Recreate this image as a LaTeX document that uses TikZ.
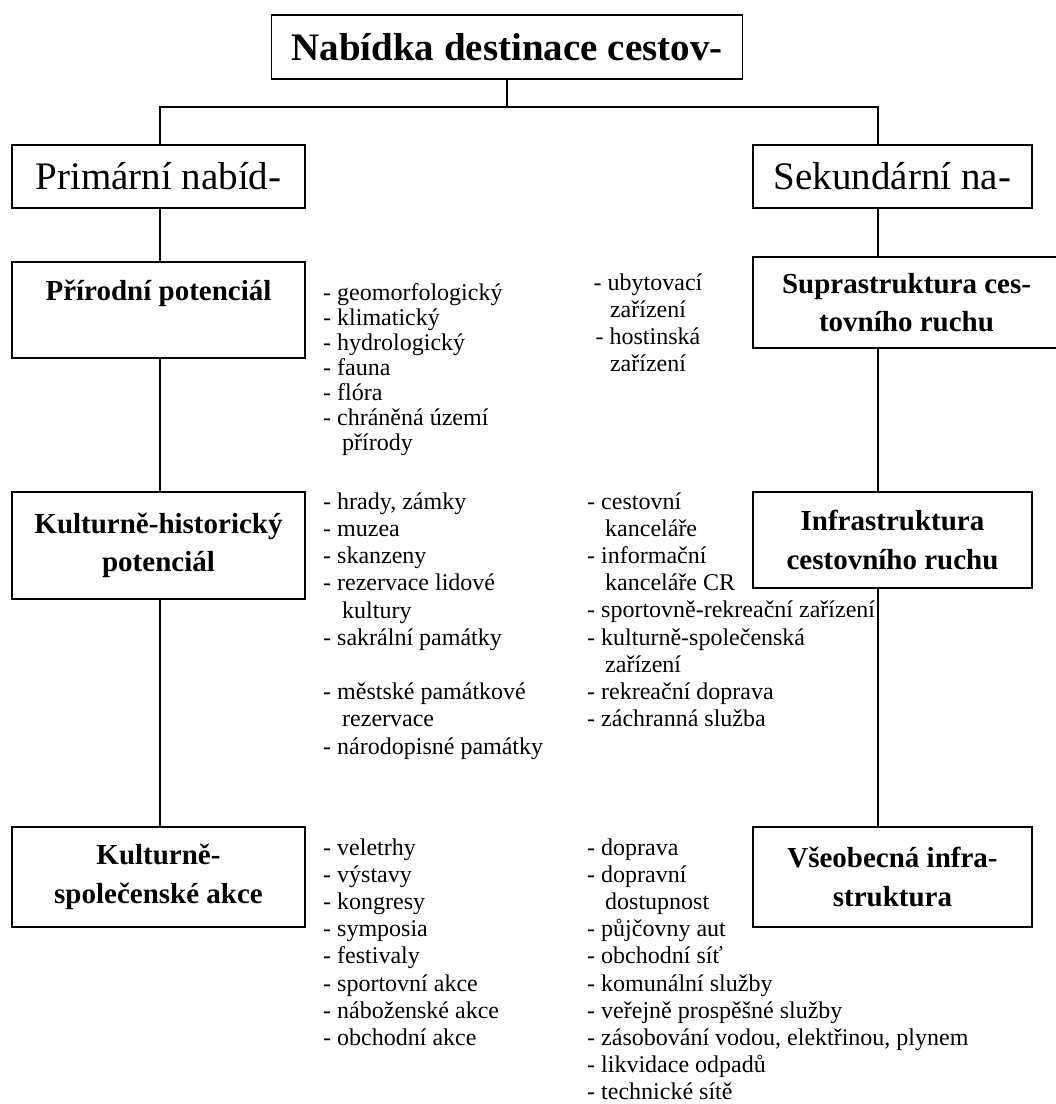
\documentclass[tikz,border=0pt]{standalone}
\usepackage{fontspec}
\setmainfont{Liberation Serif}
\usetikzlibrary{positioning}

\begin{document}
\begin{tikzpicture}[x=1pt, y=-1pt,
    box/.style={draw, line width=1.6pt, inner sep=0pt, align=center},
    head/.style={box, font=\fontsize{29}{38.5}\selectfont\bfseries},
    level/.style={box, font=\fontsize{39}{46}\selectfont},
    items/.style={anchor=base west, align=left, inner sep=0pt, font=\fontsize{24}{27.2}\selectfont},
    link/.style={line width=1.6pt}]
        \useasboundingbox (0,0) rectangle (1056,1104);
        \clip (0,0) rectangle (1056,1104);

        \node[box, minimum width=471, minimum height=64, font=\fontsize{39}{46}\selectfont\bfseries] (nabidka) at (507,47) {Nabídka destinace cestov-};
        \node[level, minimum width=293, minimum height=63] (prim) at (158.5,176.5) {Primární nabíd-};
        \node[level, minimum width=279, minimum height=63] (sek) at (892.5,176.5) {Sekundární na-};

        \node[head, minimum width=293, minimum height=96] (prir) at (158.5,310) {Přírodní potenciál\\~};
        \node[head, minimum width=293, minimum height=107] (kult) at (158.5,545.5) {Kulturně-historický\\potenciál};
        \node[head, minimum width=293, minimum height=100] (akce) at (158.5,877) {Kulturně-\\společenské akce};

        \node[head, minimum width=307, minimum height=91] (supra) at (906.5,302.5) {Suprastruktura ces-\\tovního ruchu};
        \node[head, minimum width=279, minimum height=96] (infra) at (892.5,540) {Infrastruktura\\cestovního ruchu};
        \node[head, minimum width=279, minimum height=100] (vseob) at (892.5,877) {Všeobecná infra-\\struktura};

        \coordinate (lt) at (160,107);
        \coordinate (rt) at (878,107);
        \draw[link] (nabidka.south) -- (nabidka.south |- lt);
        \draw[link] (prim.north -| lt) -- (lt) -- (rt) -- (sek.north -| rt);
        \draw[link] (prim.south -| lt) -- (prir.north -| lt);
        \draw[link] (prir.south -| lt) -- (kult.north -| lt);
        \draw[link] (kult.south -| lt) -- (akce.north -| lt);
        \draw[link] (sek.south -| rt) -- (supra.north -| rt);
        \draw[link] (supra.south -| rt) -- (infra.north -| rt);
        \draw[link] (infra.south -| rt) -- (vseob.north -| rt);

        % lists sit on the baseline of their last line
        \node[items, font=\fontsize{24}{25}\selectfont] (prirlist) at (323,450) {- geomorfologický\\- klimatický\\- hydrologický\\- fauna\\- flóra\\- chráněná území\\\hspace*{19pt}přírody};
        \node[items, anchor=base, align=center] (supralist) at (648,371.6) {- ubytovací\\zařízení\\- hostinská\\zařízení};
        \node[items] (kultlist) at (323,754) {- hrady, zámky\\- muzea\\- skanzeny\\- rezervace lidové\\\hspace*{19pt}kultury\\- sakrální památky\\[27.2pt]- městské památkové\\\hspace*{19pt}rezervace\\- národopisné památky};
        \node[items] (infralist) at (587,726.6) {- cestovní\\\hspace*{18pt}kanceláře\\- informační\\\hspace*{18pt}kanceláře CR\\- sportovně-rekreační zařízení\\- kulturně-společenská\\\hspace*{18pt}zařízení\\- rekreační doprava\\- záchranná služba};
        \node[items] (akcelist) at (323,1045.4) {- veletrhy\\- výstavy\\- kongresy\\- symposia\\- festivaly\\- sportovní akce\\- náboženské akce\\- obchodní akce};
        \node[items] (vseoblist) at (587,1099.8) {- doprava\\- dopravní\\\hspace*{18pt}dostupnost\\- půjčovny aut\\- obchodní síť\\- komunální služby\\- veřejně prospěšné služby\\- zásobování vodou, elektřinou, plynem\\- likvidace odpadů\\- technické sítě};
\end{tikzpicture}
\end{document}
